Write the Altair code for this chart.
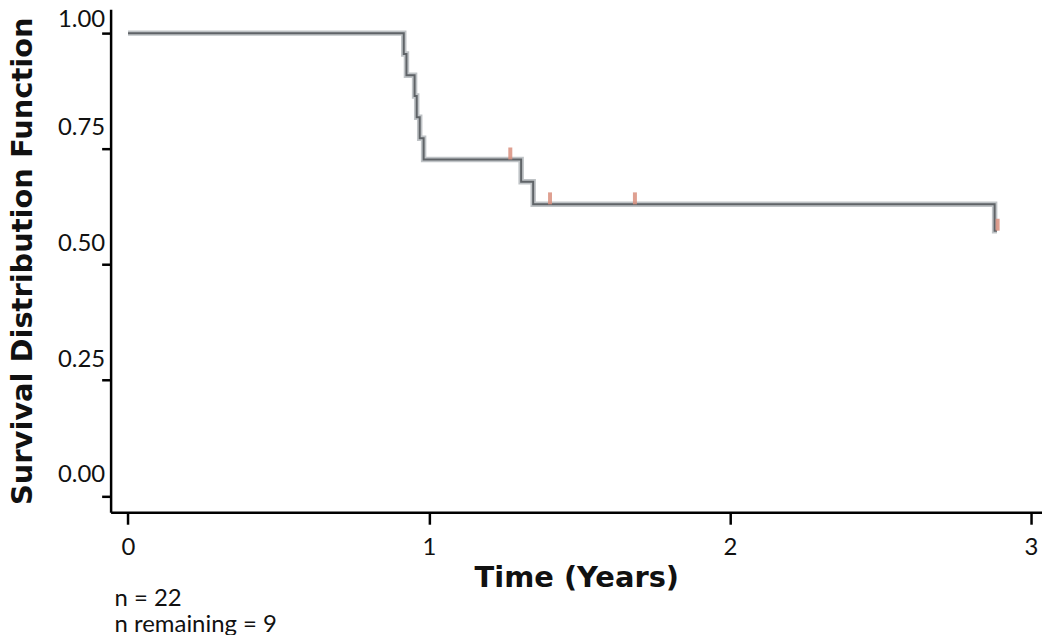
import altair as alt
import pandas as pd

# Kaplan-Meier step curve
times = [0.0, 0.916, 0.925, 0.952, 0.959, 0.969, 0.982, 1.306, 1.346, 2.879, 2.887]
surv = [1.0, 0.955, 0.909, 0.864, 0.818, 0.773, 0.727, 0.679, 0.630, 0.573, 0.573]

# censored observations
censor_times = [1.270, 1.402, 1.684, 2.889]
censor_surv = [0.727, 0.630, 0.630, 0.573]

x_ticks = [0, 1, 2, 3]
y_ticks = [0.0, 0.25, 0.5, 0.75, 1.0]
note_lines = ["n = 22", "n remaining = 9"]

curve = pd.DataFrame({"t": times, "s": surv})
cens = pd.DataFrame({"t": censor_times, "s": censor_surv})

x_enc = alt.X(
    "t:Q",
    scale=alt.Scale(domain=[-0.0579, 3.0364], nice=False, zero=False),
    axis=alt.Axis(
        values=x_ticks, title="Time (Years)", format="d",
        tickSize=12, labelPadding=11, labelFlush=False, labelAngle=0,
        titleBaseline="alphabetic", titleY=75,
    ),
)
y_enc = alt.Y(
    "s:Q",
    scale=alt.Scale(domain=[-0.0355, 1.0517], nice=False, zero=False),
    axis=alt.Axis(
        values=y_ticks, title="Survival Distribution Function", format=".2f",
        tickSize=9, labelPadding=-3,
        labelOffset={"condition": {"test": "datum.value == 1", "value": -14}, "value": -21},
        titleX=-79, titleY=252.5, titleBaseline="alphabetic", titleAlign="center",
    ),
)

halo = alt.Chart(curve).mark_line(
    interpolate="step-after", color="#bfc3c6", strokeWidth=5.5
).encode(x=x_enc, y=y_enc)
core = alt.Chart(curve).mark_line(
    interpolate="step-after", color="#5f6367", strokeWidth=2
).encode(x=x_enc, y=y_enc)
marks = alt.Chart(cens).mark_rule(
    color="#d98f7e", strokeWidth=4, opacity=0.85, y2Offset=-12
).encode(x=x_enc, y=y_enc, y2="s:Q")

chart = (
    alt.layer(halo, core, marks)
    .properties(
        width=935, height=505,
        autosize=alt.AutoSizeParams(type="none"),
        padding={"left": 103, "top": 0, "right": 0, "bottom": 122},
        title=alt.TitleParams(
            note_lines, orient="bottom", anchor="start", frame="group",
            font="Lato", fontSize=24, fontWeight="normal", color="#111111",
            lineHeight=26, dx=4, offset=-6, baseline="top",
        ),
    )
    .configure_view(stroke=None)
    .configure_axis(
        domainColor="#000000", domainWidth=2.5, tickColor="#000000",
        tickWidth=2.5, grid=False, labelFont="Lato", labelFontSize=24,
        labelColor="#111111", titleFont="DejaVu Sans", titleFontWeight="bold",
        titleFontSize=29, titleColor="#111111",
    )
)

chart.save("out.html", embed_options={"renderer": "svg", "actions": False})
